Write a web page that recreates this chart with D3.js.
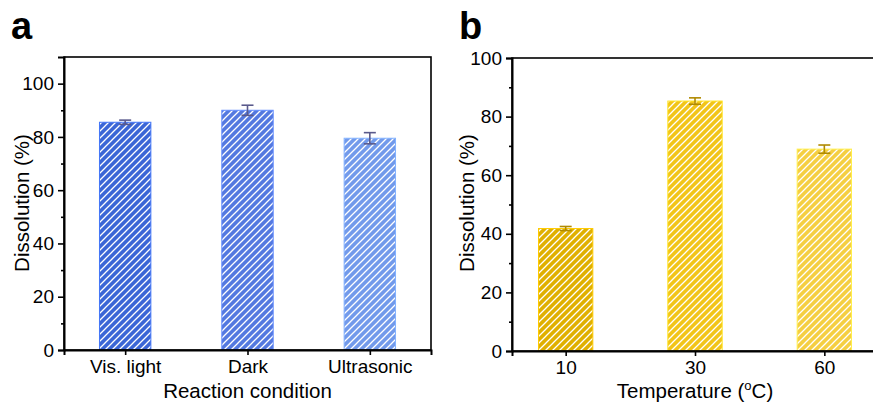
<!DOCTYPE html>
<html>
<head>
<meta charset="utf-8">
<script src="https://cdn.jsdelivr.net/npm/d3@7"></script>
<style>
  body { margin: 0; background: #fff; }
  svg { font-family: "Liberation Sans", Arial, sans-serif; }
</style>
</head>
<body>
<svg id="chart" width="873" height="405"></svg>
<script>
// panel a data
const conditions = ['Vis. light', 'Dark', 'Ultrasonic'];
const condValues = [85.5, 90.0, 79.5];
const condErrors = [0.8, 1.9, 2.1];
const condColors = ['#3b66d6', '#5479e0', '#729aeb'];

// panel b data
const temps = ['10', '30', '60'];
const tempValues = [41.8, 85.3, 68.9];
const tempErrors = [0.7, 1.1, 1.4];
const tempColors = ['#e0b000', '#f2c519', '#f5cf42'];

const yTicksA = [0, 20, 40, 60, 80, 100];
const yTicksB = [0, 20, 40, 60, 80, 100];

const svg = d3.select('#chart');
const defs = svg.append('defs');

// hatch patterns, one per colour
const makeHatch = (id, color) => {
  const p = defs.append('pattern')
    .attr('id', id)
    .attr('patternUnits', 'userSpaceOnUse')
    .attr('width', 7).attr('height', 7);
  p.append('rect').attr('width', 7).attr('height', 7).attr('fill', color);
  p.append('path')
    .attr('d', 'M0,7 L7,0 M-1,1 L1,-1 M6,8 L8,6')
    .attr('stroke', '#fff').attr('stroke-width', 1.3);
};

const drawPanel = (opts) => {
  const { labels, values, errors, colors, x, y, yTicks, minorTicks, errColor, prefix } = opts;
  const g = svg.append('g');
  const [x0, x1] = x.range();
  const [y0, y1] = y.range();

  colors.forEach((c, i) => makeHatch(`${prefix}-hatch-${i}`, c));

  // bars
  const bw = x(1.42) - x(1);
  g.selectAll('.bar')
    .data(values)
    .enter().append('rect')
    .attr('x', (d, i) => x(i + 1) - bw / 2)
    .attr('y', d => y(d))
    .attr('width', bw)
    .attr('height', d => y(0) - y(d))
    .attr('fill', (d, i) => `url(#${prefix}-hatch-${i})`)
    .attr('stroke', (d, i) => d3.color(colors[i]).brighter(0.4))
    .attr('stroke-width', 1);

  // error bars
  const eb = g.selectAll('.err')
    .data(values)
    .enter().append('g')
    .attr('stroke', errColor)
    .attr('stroke-width', 1.6);
  eb.append('line')
    .attr('x1', (d, i) => x(i + 1)).attr('x2', (d, i) => x(i + 1))
    .attr('y1', (d, i) => y(d + errors[i])).attr('y2', (d, i) => y(d - errors[i]));
  eb.append('line')
    .attr('x1', (d, i) => x(i + 1) - 6).attr('x2', (d, i) => x(i + 1) + 6)
    .attr('y1', (d, i) => y(d + errors[i])).attr('y2', (d, i) => y(d + errors[i]));
  eb.append('line')
    .attr('x1', (d, i) => x(i + 1) - 6).attr('x2', (d, i) => x(i + 1) + 6)
    .attr('y1', (d, i) => y(d - errors[i])).attr('y2', (d, i) => y(d - errors[i]));

  // frame
  g.append('rect')
    .attr('x', x0).attr('y', y1)
    .attr('width', x1 - x0).attr('height', y0 - y1)
    .attr('fill', 'none').attr('stroke', '#000').attr('stroke-width', 1.6);

  // y axis
  const yAxis = g.append('g')
    .attr('transform', `translate(${x0},0)`)
    .call(d3.axisLeft(y).tickValues(yTicks).tickSize(6).tickPadding(4));
  yAxis.select('.domain').attr('stroke-width', 2);
  yAxis.selectAll('.tick line').attr('stroke-width', 1.6);
  yAxis.selectAll('text').attr('font-size', 19).attr('fill', '#000');
  g.append('g')
    .attr('transform', `translate(${x0},0)`)
    .call(d3.axisLeft(y).tickValues(minorTicks).tickSize(3).tickFormat(''))
    .call(a => a.select('.domain').remove())
    .selectAll('.tick line').attr('stroke-width', 1.6);

  // x axis
  const xAxis = g.append('g')
    .attr('transform', `translate(0,${y0})`)
    .call(d3.axisBottom(x).tickValues([1, 2, 3]).tickSize(5).tickPadding(5)
      .tickFormat((d, i) => labels[i]));
  xAxis.select('.domain').attr('stroke-width', 2);
  xAxis.selectAll('.tick line').attr('stroke-width', 1.6);
  xAxis.selectAll('text').attr('font-size', 19).attr('fill', '#000');

  return g;
};

// panel a
const xA = d3.scaleLinear().domain([0.5, 3.5]).range([64, 431]);
const yA = d3.scaleLinear().domain([0, 110]).range([350, 57]);
drawPanel({
  labels: conditions, values: condValues, errors: condErrors, colors: condColors,
  x: xA, y: yA, yTicks: yTicksA, minorTicks: [10, 30, 50, 70, 90],
  errColor: '#5a5a8c', prefix: 'a'
});

// panel b
const xB = d3.scaleLinear().domain([0.585, 3.384]).range([512, 874]);
const yB = d3.scaleLinear().domain([0, 100]).range([351, 58]);
drawPanel({
  labels: temps, values: tempValues, errors: tempErrors, colors: tempColors,
  x: xB, y: yB, yTicks: yTicksB, minorTicks: [10, 30, 50, 70, 90],
  errColor: '#b08a00', prefix: 'b'
});

// titles
svg.append('text').attr('x', 247.5).attr('y', 398).attr('text-anchor', 'middle')
  .attr('font-size', 20.5).text('Reaction condition');
svg.append('text').attr('transform', 'translate(29,203) rotate(-90)')
  .attr('text-anchor', 'middle').attr('font-size', 20.5).text('Dissolution (%)');
svg.append('text').attr('transform', 'translate(474,203) rotate(-90)')
  .attr('text-anchor', 'middle').attr('font-size', 20.5).text('Dissolution (%)');

const tT = svg.append('text').attr('x', 695).attr('y', 398).attr('text-anchor', 'middle')
  .attr('font-size', 20.5);
tT.append('tspan').text('Temperature (');
tT.append('tspan').attr('font-size', 13).attr('dy', -8).text('o');
tT.append('tspan').attr('dy', 8).text('C)');

// panel letters
svg.append('text').attr('x', 11).attr('y', 39).attr('font-size', 38)
  .attr('font-weight', 'bold').text('a');
svg.append('text').attr('x', 459).attr('y', 39).attr('font-size', 38)
  .attr('font-weight', 'bold').text('b');
</script>
</body>
</html>
